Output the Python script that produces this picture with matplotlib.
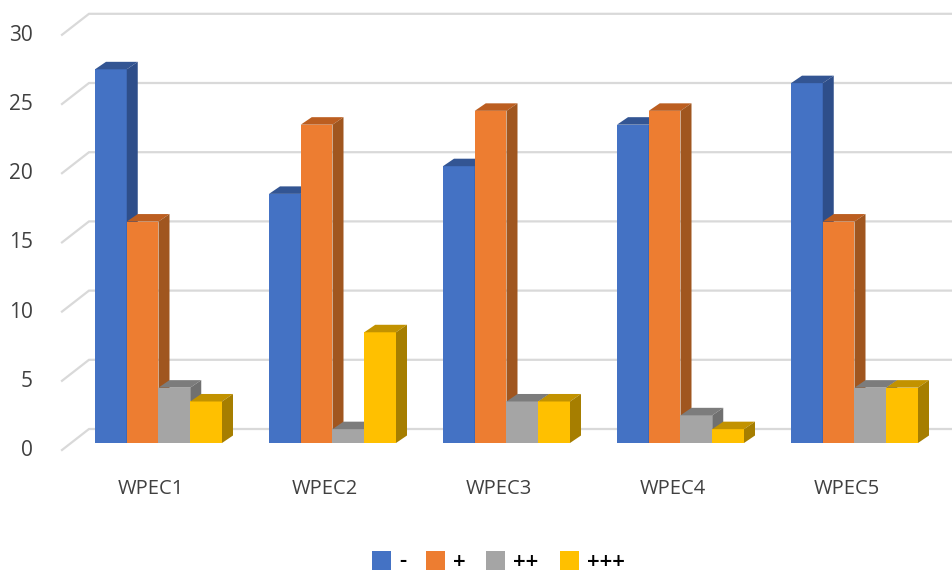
import matplotlib
matplotlib.use('Agg')
import matplotlib.pyplot as plt
from matplotlib.patches import Rectangle

categories = ['WPEC1', 'WPEC2', 'WPEC3', 'WPEC4', 'WPEC5']
seriesNames = ['-', '+', '++', '+++']
minusValues = [27, 18, 20, 23, 26]
plusValues = [16, 23, 24, 24, 16]
twoPlusValues = [4, 1, 3, 2, 4]
threePlusValues = [3, 8, 3, 1, 4]
yTicks = [0, 5, 10, 15, 20, 25, 30]

frontColors = ['#4472C4', '#ED7D31', '#A5A5A5', '#FFC000']
topColors = ['#335593', '#BC5E20', '#7C7C7C', '#C29200']
sideColors = ['#2E4E8A', '#A0561F', '#707070', '#A67E00']

WIDTH, HEIGHT = 953, 571
PX_PER_BAR = 31.75      # one bar width in pixels
PX_PER_UNIT = 13.84     # one value unit in pixels
ORIGIN_X, ORIGIN_Y = 95, 443
GROUP_STEP = 174 / PX_PER_BAR
DEPTH_X = 11 / PX_PER_BAR
DEPTH_Y = 7.5 / PX_PER_UNIT

plt.rcParams['font.family'] = ['Open Sans', 'DejaVu Sans']

fig = plt.figure(figsize=(WIDTH / 100, HEIGHT / 100), dpi=100)
ax = fig.add_axes([0, 0, 1, 1])
ax.set_xlim(-ORIGIN_X / PX_PER_BAR, (WIDTH - ORIGIN_X) / PX_PER_BAR)
ax.set_ylim(-(HEIGHT - ORIGIN_Y) / PX_PER_UNIT, ORIGIN_Y / PX_PER_UNIT)
ax.axis('off')


def draw3dBar(x, value, index):
    ax.bar(x, value, width=1, align='edge', color=frontColors[index], linewidth=0, zorder=3)
    ax.fill([x, x + DEPTH_X, x + 1 + DEPTH_X, x + 1],
            [value, value + DEPTH_Y, value + DEPTH_Y, value],
            color=topColors[index], linewidth=0, zorder=3)
    ax.fill([x + 1, x + 1 + DEPTH_X, x + 1 + DEPTH_X, x + 1],
            [0, DEPTH_Y, value + DEPTH_Y, value],
            color=sideColors[index], linewidth=0, zorder=3)


# back wall gridlines with the slanted piece on the left side wall
wallLeft = -6 / PX_PER_BAR
floorLeft = -33 / PX_PER_BAR
floorDrop = 7 / PX_PER_UNIT
wallRise = 14 / PX_PER_UNIT
for tick in yTicks:
    ax.plot([floorLeft, wallLeft, ax.get_xlim()[1]],
            [tick - floorDrop, tick + wallRise, tick + wallRise],
            color='#D9D9D9', linewidth=1.6, zorder=1, solid_joinstyle='miter')
    ax.text(-62 / PX_PER_BAR, tick - 5 / PX_PER_UNIT, str(tick), fontsize=15, color='#404040',
            ha='right', va='center_baseline', zorder=4)

allSeries = [minusValues, plusValues, twoPlusValues, threePlusValues]
for groupIndex, category in enumerate(categories):
    groupStart = groupIndex * GROUP_STEP
    for seriesIndex, values in enumerate(allSeries):
        draw3dBar(groupStart + seriesIndex, values[groupIndex], seriesIndex)
    ax.text(groupStart + 2 - 8 / PX_PER_BAR, -44 / PX_PER_UNIT, category, fontsize=14.5, color='#404040',
            ha='center', va='center_baseline')

# legend placed by hand in figure pixels
swatchX = [372, 426, 486, 560]
for name, color, left in zip(seriesNames, frontColors, swatchX):
    fig.add_artist(Rectangle((left / WIDTH, 1 - 570 / HEIGHT), 19 / WIDTH, 19 / HEIGHT,
                             transform=fig.transFigure, facecolor=color, edgecolor='none'))
    fig.text((left + 27) / WIDTH, 1 - 562 / HEIGHT, name, fontsize=16, color='black',
             ha='left', va='center', fontweight='semibold')

fig.savefig('out.png', dpi=100, facecolor='white')
